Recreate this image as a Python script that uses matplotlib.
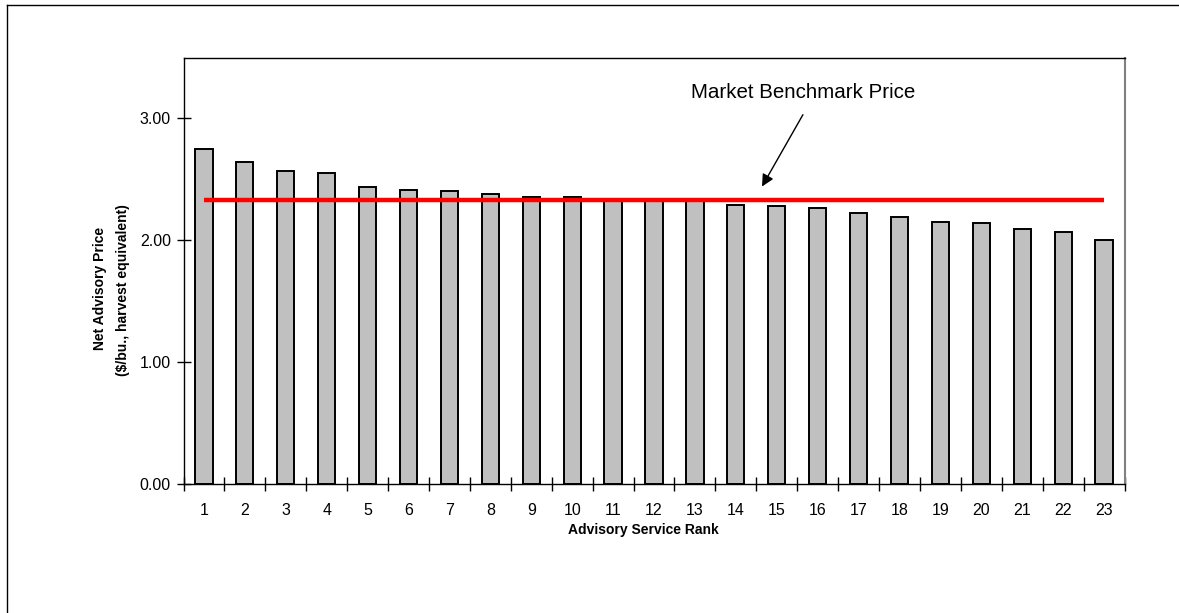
import matplotlib
matplotlib.use("Agg")
import matplotlib.pyplot as plt
from matplotlib.lines import Line2D


plt.rcParams["font.family"] = ["Liberation Sans", "DejaVu Sans"]

# Advisory service rank and net advisory price ($/bu., harvest equivalent)
ranks = list(range(1, 24))
prices = [2.75, 2.64, 2.57, 2.55, 2.44, 2.41, 2.40, 2.38, 2.35, 2.35,
          2.34, 2.33, 2.32, 2.29, 2.28, 2.26, 2.22, 2.19, 2.15, 2.14,
          2.09, 2.07, 2.00]
benchmark = 2.33
y_ticks = [0, 1, 2, 3]


def main():
    W, H = 1179, 613
    fig = plt.figure(figsize=(W / 100, H / 100), dpi=100)

    # outer chart frame: only left and top edges fall inside the image
    fx, fy = 7.5 / W, 1 - 4.5 / H
    fig.add_artist(Line2D([fx, fx], [0, fy], transform=fig.transFigure,
                          color="black", linewidth=1.0))
    fig.add_artist(Line2D([fx, 1], [fy, fy], transform=fig.transFigure,
                          color="black", linewidth=1.0))

    left, right = 183.5 / W, 1124.5 / W
    bottom, top = 1 - 483.5 / H, 1 - 57.5 / H
    ax = fig.add_axes([left, bottom, right - left, top - bottom])

    ax.bar(ranks, prices, width=0.42, color="#c0c0c0", edgecolor="black",
           linewidth=1.4, zorder=2)
    ax.plot([ranks[0], ranks[-1]], [benchmark, benchmark], color="#ff0000",
            linewidth=3.2, zorder=3, solid_capstyle="butt")

    ax.set_xlim(0.5, len(ranks) + 0.5)
    ax.set_ylim(0, 3.5)

    # ticks at category boundaries, labels at centres
    ax.set_xticks([r - 0.5 for r in ranks] + [ranks[-1] + 0.5])
    ax.set_xticklabels([])
    ax.set_xticks(ranks, minor=True)
    ax.set_xticklabels([str(r) for r in ranks], minor=True)
    ax.tick_params(axis="x", which="major", direction="inout", length=10, width=1)
    ax.tick_params(axis="x", which="minor", length=0, pad=14, labelsize=11.5)

    ax.set_yticks(y_ticks)
    ax.set_yticklabels([f"{v:.2f}" for v in y_ticks])
    ax.tick_params(axis="y", direction="inout", length=10, width=1, pad=4,
                   labelsize=11.5)

    for side in ["left", "bottom", "top"]:
        ax.spines[side].set_color("black")
        ax.spines[side].set_linewidth(1.0)
    ax.spines["right"].set_color("#808080")
    ax.spines["right"].set_linewidth(1.5)

    # annotation
    ax.text(15.64, 3.21, "Market Benchmark Price", ha="center", va="center",
            fontsize=14.8)
    ax.annotate("", xy=(14.64, 2.44), xytext=(15.64, 3.03),
                arrowprops=dict(arrowstyle="-|>", color="black", lw=1.0,
                                mutation_scale=18, shrinkA=0, shrinkB=0))

    # axis titles
    fig.text(643 / W, 1 - 530 / H, "Advisory Service Rank", ha="center",
             va="center", fontsize=10, fontweight="bold")
    fig.text(100 / W, 1 - 288 / H, "Net Advisory Price", ha="center",
             va="center", rotation=90, fontsize=10, fontweight="bold")
    fig.text(123 / W, 1 - 290 / H, "($/bu., harvest equivalent)", ha="center",
             va="center", rotation=90, fontsize=10, fontweight="bold")

    fig.savefig("out.png", dpi=100)


if __name__ == "__main__":
    main()
